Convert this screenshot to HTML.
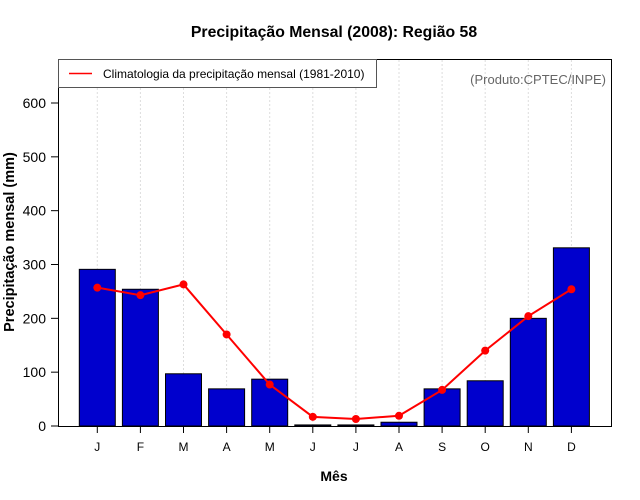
<!DOCTYPE html>
<html><head><meta charset="utf-8"><style>
body{margin:0;background:#fff;}
svg{display:block;font-family:"Liberation Sans",sans-serif;}
</style></head><body>
<svg id="chart" width="640" height="500">
<text x="334" y="37" text-anchor="middle" font-size="15.8" font-weight="bold">Precipitação Mensal (2008): Região 58</text>
<g id="grid"></g>
<g id="bars"></g>
<g id="line"></g>
<rect x="58.5" y="59.5" width="553" height="367" fill="none" stroke="#000"/>
<g id="yaxis"></g>
<g id="xaxis"></g>
<text x="14" y="242" transform="rotate(-90 14 242)" text-anchor="middle" font-size="14.5" font-weight="bold">Precipitação mensal (mm)</text>
<text x="334" y="481" text-anchor="middle" font-size="14" font-weight="bold">Mês</text>
<g>
<rect x="58.5" y="59.5" width="318" height="28" fill="#fff" stroke="#555"/>
<line x1="69" y1="73.5" x2="92" y2="73.5" stroke="#f00" stroke-width="1.5"/>
<text x="103" y="78" font-size="12">Climatologia da precipitação mensal (1981-2010)</text>
</g>
<text x="606" y="84" text-anchor="end" font-size="13" fill="#666">(Produto:CPTEC/INPE)</text>
</svg>
<script>
const months = ["J","F","M","A","M","J","J","A","S","O","N","D"];
const observed = [291,254,97,69,87,2,2,7,69,84,200,331];
const climatology = [257,243,263,170,77,17,13,19,67,140,204,254];
const yTicks = [0,100,200,300,400,500,600];

const ns="http://www.w3.org/2000/svg";
const x0=97.3, dx=43.1, y0=426, ppu=323/600;
const xs=i=>x0+i*dx;
const ys=v=>y0-v*ppu;
function mk(t,a,p){const e=document.createElementNS(ns,t);for(const k in a)e.setAttribute(k,a[k]);p.appendChild(e);return e;}
const grid=document.getElementById('grid'),bars=document.getElementById('bars'),line=document.getElementById('line'),ya=document.getElementById('yaxis'),xa=document.getElementById('xaxis');
months.forEach((m,i)=>{
  const g=mk('line',{x1:xs(i),x2:xs(i),y1:60,y2:426,stroke:'#ddd','stroke-dasharray':'2,2'},grid);
  
  
  const b=mk('rect',{x:xs(i)-18,y:ys(observed[i]),width:36,height:observed[i]*ppu,fill:'#0000cd',stroke:'#000','stroke-width':1},bars);
  
  
  const t=mk('line',{x1:xs(i),x2:xs(i),y1:426,y2:433,stroke:'#000'},xa);
  
  
  const l=mk('text',{x:xs(i),y:451,'text-anchor':'middle','font-size':12},xa);
  l.textContent=m;
  
  
});
const pl=mk('polyline',{points:climatology.map((v,i)=>xs(i)+','+ys(v)).join(' '),fill:'none',stroke:'#f00','stroke-width':2},line);


climatology.forEach((v,i)=>{
  const c=mk('circle',{cx:xs(i),cy:ys(v),r:4,fill:'#f00'},line);
  
  
});
mk('line',{x1:58.5,x2:58.5,y1:ys(0),y2:ys(600),stroke:'#000'},ya);
yTicks.forEach(v=>{
  const t=mk('line',{x1:51,x2:58.5,y1:ys(v),y2:ys(v),stroke:'#000'},ya);
  
  
  const l=mk('text',{x:46,y:ys(v)+5,'text-anchor':'end','font-size':14},ya);
  l.textContent=v;
  
  
});
</script>
</body></html>
